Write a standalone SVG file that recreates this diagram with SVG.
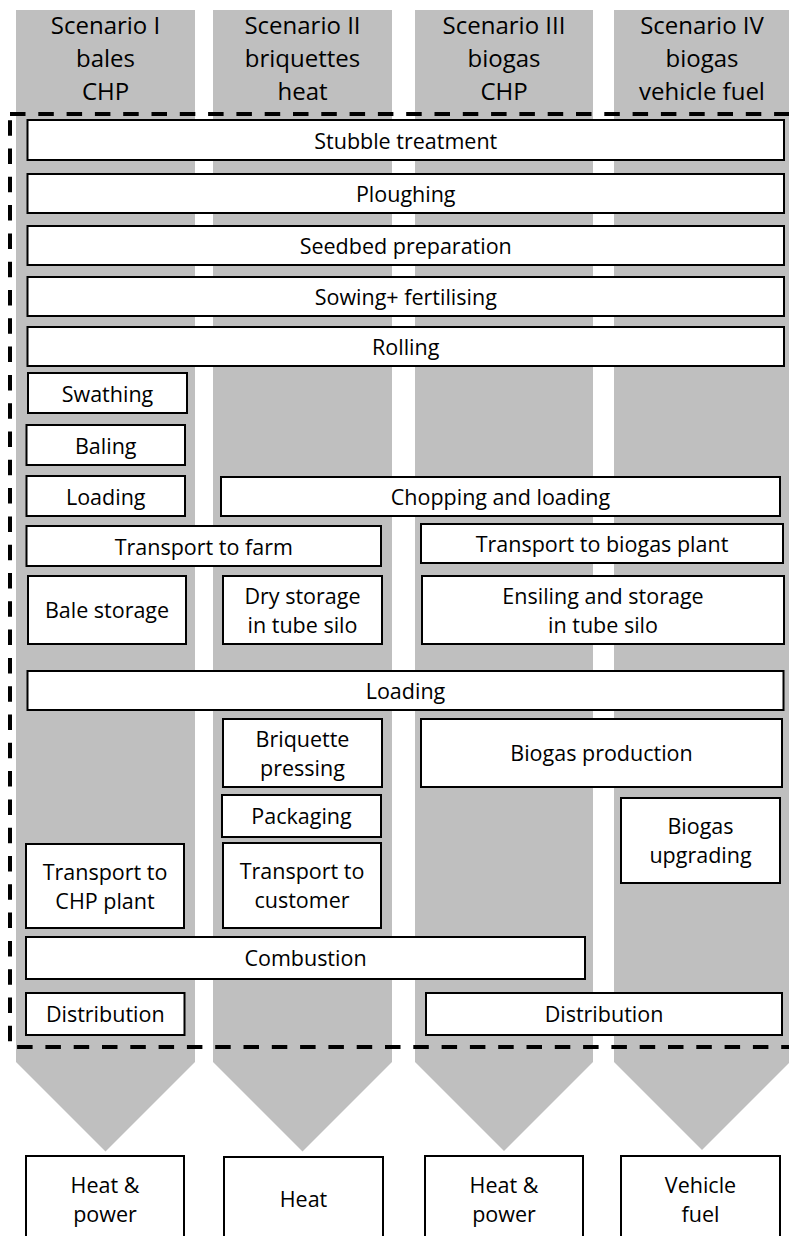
<svg xmlns="http://www.w3.org/2000/svg" width="789" height="1236" viewBox="0 0 789 1236">
<style>
.lane{fill:#bfbfbf;stroke:none}
.box rect{fill:#fff;stroke:#000;stroke-width:2}
text{font-family:"Open Sans","Liberation Sans",sans-serif;fill:#000;text-anchor:middle}
.box text{font-size:21.5px}
.hdr{font-size:24px}
.frame{fill:none;stroke:#000;stroke-width:4;stroke-dasharray:15.5 12.8}
</style>
<rect width="789" height="1236" fill="#fff"/>
<g id="lanes">
<polygon class="lane" points="16,10 195,10 195,1062 105.5,1151.5 16,1062"/>
<polygon class="lane" points="213,10 392,10 392,1062 302.5,1151.5 213,1062"/>
<polygon class="lane" points="415,10 593,10 593,1062 504,1151 415,1062"/>
<polygon class="lane" points="614,10 790,10 790,1062 702,1150 614,1062"/>
</g>
<g id="headers" class="hdr">
<g id="h1"><text x="105.5" y="34" class="hdr">Scenario I</text><text x="105.5" y="67" class="hdr">bales</text><text x="105.5" y="100" class="hdr">CHP</text></g>
<g id="h2"><text x="302.5" y="34" class="hdr">Scenario II</text><text x="302.5" y="67" class="hdr">briquettes</text><text x="302.5" y="100" class="hdr">heat</text></g>
<g id="h3"><text x="504" y="34" class="hdr">Scenario III</text><text x="504" y="67" class="hdr">biogas</text><text x="504" y="100" class="hdr">CHP</text></g>
<g id="h4"><text x="702" y="34" class="hdr">Scenario IV</text><text x="702" y="67" class="hdr">biogas</text><text x="702" y="100" class="hdr">vehicle fuel</text></g>
</g>
<g id="connectors">
<rect class="frame" x="10" y="114" width="790" height="933"/>
</g>
<g id="stubble" class="box"><rect x="27.5" y="120" width="756.5" height="40"/><text x="405.75" y="148.5">Stubble treatment</text></g>
<g id="ploughing" class="box"><rect x="27.5" y="174" width="756.5" height="39"/><text x="405.75" y="202">Ploughing</text></g>
<g id="seedbed" class="box"><rect x="27.5" y="226" width="756.5" height="39"/><text x="405.75" y="254">Seedbed preparation</text></g>
<g id="sowing" class="box"><rect x="27.5" y="277" width="756.5" height="39"/><text x="405.75" y="305">Sowing+ fertilising</text></g>
<g id="rolling" class="box"><rect x="27.5" y="327" width="756.5" height="39"/><text x="405.75" y="355">Rolling</text></g>
<g id="swathing" class="box"><rect x="28" y="373" width="159" height="40"/><text x="107.5" y="401.5">Swathing</text></g>
<g id="baling" class="box"><rect x="26.5" y="425" width="158.5" height="40"/><text x="105.75" y="453.5">Baling</text></g>
<g id="loading1" class="box"><rect x="26.5" y="476" width="158.5" height="40"/><text x="105.75" y="504.5">Loading</text></g>
<g id="chopping" class="box"><rect x="221" y="477" width="559" height="39"/><text x="500.5" y="505">Chopping and loading</text></g>
<g id="transport-farm" class="box"><rect x="26.5" y="526" width="354.5" height="40"/><text x="203.75" y="554.5">Transport to farm</text></g>
<g id="transport-biogas" class="box"><rect x="421" y="524" width="362" height="39"/><text x="602" y="552">Transport to biogas plant</text></g>
<g id="bale-storage" class="box"><rect x="28" y="576" width="158" height="68"/><text x="107" y="618">Bale storage</text></g>
<g id="dry-storage" class="box"><rect x="223" y="576" width="159" height="68"/><text x="302.5" y="603.5">Dry storage</text><text x="302.5" y="632.5">in tube silo</text></g>
<g id="ensiling" class="box"><rect x="422" y="576" width="362" height="68"/><text x="603" y="603.5">Ensiling and storage</text><text x="603" y="632.5">in tube silo</text></g>
<g id="loading2" class="box"><rect x="27.5" y="671" width="756" height="39"/><text x="405.5" y="699">Loading</text></g>
<g id="briquette" class="box"><rect x="223" y="719" width="159" height="68"/><text x="302.5" y="746.5">Briquette</text><text x="302.5" y="775.5">pressing</text></g>
<g id="packaging" class="box"><rect x="222" y="795" width="159" height="42"/><text x="301.5" y="824">Packaging</text></g>
<g id="transport-customer" class="box"><rect x="223" y="843" width="158" height="85"/><text x="302" y="879">Transport to</text><text x="302" y="908">customer</text></g>
<g id="transport-chp" class="box"><rect x="26" y="844" width="158" height="84"/><text x="105" y="879.5">Transport to</text><text x="105" y="908.5">CHP plant</text></g>
<g id="combustion" class="box"><rect x="26" y="937" width="559" height="42"/><text x="305.5" y="966">Combustion</text></g>
<g id="biogas-production" class="box"><rect x="421" y="719" width="361" height="68"/><text x="601.5" y="761">Biogas production</text></g>
<g id="biogas-upgrading" class="box"><rect x="621" y="798" width="159" height="85"/><text x="700.5" y="834">Biogas</text><text x="700.5" y="863">upgrading</text></g>
<g id="distribution1" class="box"><rect x="26" y="993" width="158.5" height="42"/><text x="105.25" y="1022">Distribution</text></g>
<g id="distribution2" class="box"><rect x="426" y="993" width="356" height="42"/><text x="604" y="1022">Distribution</text></g>
<g id="out1" class="box"><rect x="26" y="1156" width="158" height="90"/><text x="105" y="1193">Heat &amp;</text><text x="105" y="1222">power</text></g>
<g id="out2" class="box"><rect x="224" y="1157" width="159" height="90"/><text x="303.5" y="1207">Heat</text></g>
<g id="out3" class="box"><rect x="425" y="1156" width="158" height="90"/><text x="504" y="1193">Heat &amp;</text><text x="504" y="1222">power</text></g>
<g id="out4" class="box"><rect x="621" y="1156" width="159" height="90"/><text x="700.5" y="1193">Vehicle</text><text x="700.5" y="1222">fuel</text></g>
</svg>
